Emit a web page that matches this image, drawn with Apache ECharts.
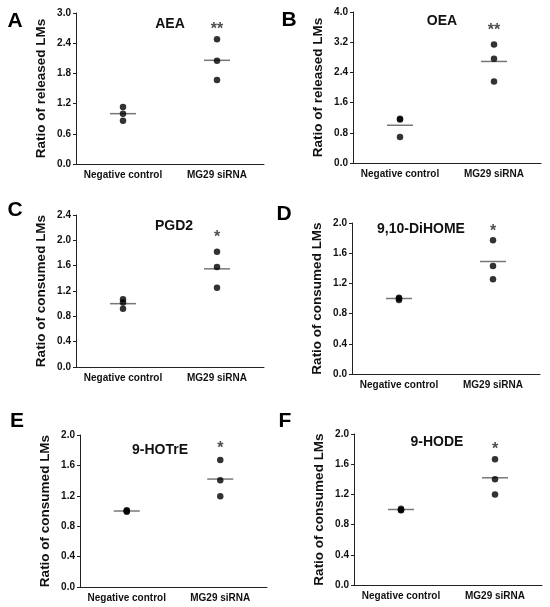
<!DOCTYPE html>
<html><head><meta charset="utf-8">
<script src="https://cdn.jsdelivr.net/npm/echarts@6/dist/echarts.min.js"></script>
<style>html,body{margin:0;padding:0;background:#fff}#c{width:550px;height:607px}</style>
</head><body><div id="c"></div>
<script>
// ---- data ----
const categories = ['Negative control', 'MG29 siRNA'];
const panelLetters = ['A', 'B', 'C', 'D', 'E', 'F'];
const panelTitles = ['AEA', 'OEA', 'PGD2', '9,10-DiHOME', '9-HOTrE', '9-HODE'];
const yAxisNames = ['Ratio of released LMs', 'Ratio of released LMs', 'Ratio of consumed LMs',
                    'Ratio of consumed LMs', 'Ratio of consumed LMs', 'Ratio of consumed LMs'];
const yMax = [3.0, 4.0, 2.4, 2.0, 2.0, 2.0];
const yInterval = [0.6, 0.8, 0.4, 0.4, 0.4, 0.4];
// individual replicates
const negControl = [
  [1.13, 1.00, 0.86],
  [1.17, 1.15, 0.69],
  [1.07, 1.02, 0.92],
  [1.01, 1.00, 0.98],
  [1.01, 1.00, 0.99],
  [1.01, 0.995, 0.99]
];
const mg29siRNA = [
  [2.48, 2.05, 1.67],
  [3.14, 2.76, 2.16],
  [1.82, 1.58, 1.25],
  [1.77, 1.43, 1.255],
  [1.67, 1.405, 1.195],
  [1.665, 1.40, 1.198]
];
// group mean lines as read
const negMean = [1.00, 1.00, 1.00, 1.00, 1.00, 1.00];
const mgMean = [2.06, 2.69, 1.55, 1.49, 1.42, 1.42];
// significance marks and the height they sit at
const sigMarks = ['**', '**', '*', '*', '*', '*'];
const sigHeight = [2.68, 3.52, 2.04, 1.88, 1.82, 1.79];

// ---- layout ----
const grids = [
  {left: 76, top: 13, width: 188, height: 151},
  {left: 353, top: 12, width: 188, height: 151},
  {left: 76, top: 215, width: 188, height: 152},
  {left: 352, top: 223, width: 188, height: 151},
  {left: 80, top: 435, width: 187, height: 152},
  {left: 354, top: 434, width: 188, height: 151}
];
const letterPos = [[15, 21], [289, 20], [15, 210], [284, 214], [17, 421], [285, 421]];
const titlePos = [[170, 24], [442, 21], [174, 226], [421, 229], [160, 450], [437, 442]];

const FONT = "'Liberation Sans', Arial, sans-serif";
const option = {
  backgroundColor: '#fff',
  animation: false,
  grid: [], xAxis: [], yAxis: [], series: [], graphic: []
};
for (let i = 0; i < 6; i++) {
  option.grid.push(Object.assign({containLabel: false}, grids[i]));
  option.xAxis.push({
    type: 'category', gridIndex: i, data: categories,
    axisLine: {lineStyle: {color: '#222', width: 1}},
    axisTick: {alignWithLabel: true, length: 3, lineStyle: {color: '#222'}},
    axisLabel: {color: '#111', fontWeight: 'bold', fontSize: 10, fontFamily: FONT, margin: 6, interval: 0},
    splitLine: {show: false}
  });
  option.yAxis.push({
    type: 'value', gridIndex: i, min: 0, max: yMax[i], interval: yInterval[i],
    name: yAxisNames[i], nameLocation: 'middle', nameGap: 28,
    nameTextStyle: {color: '#111', fontWeight: 'bold', fontSize: 13.5, fontFamily: FONT},
    axisLine: {show: true, lineStyle: {color: '#222', width: 1}},
    axisTick: {show: true, length: 3, lineStyle: {color: '#222'}},
    axisLabel: {color: '#111', fontWeight: 'bold', fontSize: 10, fontFamily: FONT, margin: 5,
                formatter: v => v.toFixed(1)},
    splitLine: {show: false}
  });
  option.series.push({
    type: 'scatter', xAxisIndex: i, yAxisIndex: i, symbol: 'rect', symbolSize: [26, 1.5],
    itemStyle: {color: '#555'}, z: 2,
    data: [[categories[0], negMean[i]], [categories[1], mgMean[i]]]
  });
  const pts = negControl[i].map(v => [categories[0], v]).concat(mg29siRNA[i].map(v => [categories[1], v]));
  option.series.push({
    type: 'scatter', xAxisIndex: i, yAxisIndex: i, symbol: 'circle', symbolSize: 6.5,
    itemStyle: {color: '#000'}, z: 3, data: pts
  });
  option.series.push({
    type: 'scatter', xAxisIndex: i, yAxisIndex: i, symbolSize: 0, z: 4, silent: true,
    label: {show: true, position: 'inside', formatter: sigMarks[i], color: '#222',
            fontSize: 16, fontWeight: 'bold', fontFamily: FONT},
    data: [[categories[1], sigHeight[i]]]
  });
  option.graphic.push({
    type: 'text', x: letterPos[i][0], y: letterPos[i][1],
    style: {text: panelLetters[i], font: 'bold 21px ' + FONT, fill: '#000',
            textAlign: 'center', textVerticalAlign: 'middle'}
  });
  option.graphic.push({
    type: 'text', x: titlePos[i][0], y: titlePos[i][1],
    style: {text: panelTitles[i], font: 'bold 14px ' + FONT, fill: '#111',
            textAlign: 'center', textVerticalAlign: 'middle'}
  });
}
const chart = echarts.init(document.getElementById('c'), null, {renderer: 'canvas'});
chart.setOption(option);
</script></body></html>
